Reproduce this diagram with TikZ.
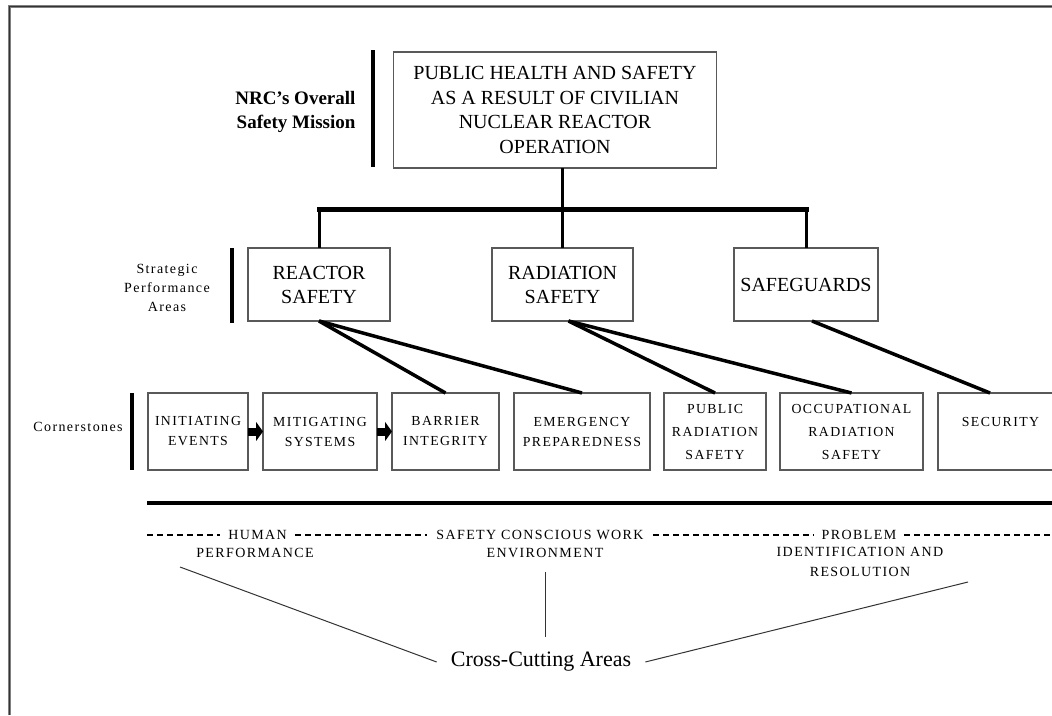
\documentclass[tikz,border=0pt]{standalone}
\usepackage{fontspec}
\setmainfont{Liberation Serif}
\newfontfamily\spacedfont[LetterSpace=10]{Liberation Serif}
\usetikzlibrary{positioning,arrows.meta}

\begin{document}
\begin{tikzpicture}[x=1pt, y=-1pt, node distance=15pt,
  box/.style={draw=black!65, line width=1.3pt, align=center, inner sep=0pt, outer sep=0pt},
  area node/.style={box, minimum width=142pt, minimum height=73pt, font=\fontsize{20}{24}\selectfont},
  corner node/.style={box, minimum height=77pt, font=\spacedfont\fontsize{13.8}{20}\selectfont},
  cross node/.style={font=\spacedfont\fontsize{14}{20}\selectfont, inner ysep=0pt},
  side label/.style={align=center, font=\spacedfont\fontsize{14}{19}\selectfont},
  side bar/.style={line width=4pt},
  trunk/.style={line width=3pt},
  spoke/.style={line width=3.5pt},
  block arrow/.style={line width=8pt, -{Triangle[length=7pt,width=19pt]}},
  dash line/.style={line width=1.3pt, dash pattern=on 6pt off 4pt},
  thin line/.style={line width=1pt, black!80}]
\useasboundingbox (0,0) rectangle (1052,715);
\clip (0,0) rectangle (1052,715);
\draw[black!50, line width=3pt] (9,715) -- (9,6.5) -- (1052,6.5);
\draw[black!80, line width=0.8pt] (9,715) -- (9,6.5) -- (1052,6.5);

% mission
\node[box, minimum width=323pt, minimum height=116pt, font=\fontsize{20}{24.5}\selectfont]
  (mission) at (555,110) {PUBLIC HEALTH AND SAFETY\\AS A RESULT OF CIVILIAN\\NUCLEAR REACTOR\\OPERATION};
\node[anchor=east, align=right, font=\bfseries\fontsize{19}{24}\selectfont] (missionlbl) at (359,112) {NRC's Overall\\Safety Mission};
\draw[side bar] (372.5,50) -- (372.5,167);

% strategic performance areas
\node[area node] (reactor) at (319,284.5) {REACTOR\\SAFETY};
\node[area node, minimum width=141pt] (radiation) at (562.5,284.5) {RADIATION\\SAFETY};
\node[area node, minimum width=144pt] (safeguards) at (806,284.5) {SAFEGUARDS};
\node[side label] (arealbl) at (167,288) {Strategic\\Performance\\Areas};
\draw[side bar] (231.5,248) -- (231.5,323);

\coordinate (hub) at (radiation.north |- 0,209);
\draw[trunk] (mission.south -| hub) -- (hub);
\draw[line width=5pt, line cap=rect] (reactor.north |- hub) -- (safeguards.north |- hub);
\draw[trunk] (reactor.north |- hub) -- (reactor.north);
\draw[trunk] (hub) -- (radiation.north);
\draw[trunk] (safeguards.north |- hub) -- (safeguards.north);

% cornerstones
\node[corner node, minimum width=100pt] (initiating) at (198,431.5) {INITIATING\\EVENTS};
\node[corner node, minimum width=114pt, right=of initiating] (mitigating) {MITIGATING\\SYSTEMS};
\node[corner node, minimum width=107pt, right=of mitigating] (barrier) {BARRIER\\INTEGRITY};
\node[corner node, minimum width=136pt, right=of barrier] (emergency) {EMERGENCY\\PREPAREDNESS};
\node[corner node, minimum width=102pt, right=14pt of emergency, font=\spacedfont\fontsize{13.8}{23}\selectfont] (public) {PUBLIC\\RADIATION\\SAFETY};
\node[corner node, minimum width=143pt, right=14pt of public, font=\spacedfont\fontsize{13.8}{23}\selectfont] (occupational) {OCCUPATIONAL\\RADIATION\\SAFETY};
\node[corner node, minimum width=125pt, right=of occupational] (security) {SECURITY\\\mbox{}};
\node[side label] (cornerlbl) at (78,427) {Cornerstones};
\draw[side bar] (131.5,393) -- (131.5,470);

\draw[block arrow] (initiating) -- (mitigating);
\draw[block arrow] (mitigating) -- (barrier);

\draw[spoke] (reactor.south) -- (barrier.north);
\draw[spoke] (reactor.south) -- (emergency.north);
\draw[spoke] ([xshift=6pt]radiation.south) -- (public.north);
\draw[spoke] ([xshift=6pt]radiation.south) -- (occupational.north);
\draw[spoke] ([xshift=6pt]safeguards.south) -- ([xshift=52pt]security.north west);

\draw[line width=4pt] (147,502.5) -- (1052,502.5);

% cross-cutting areas
\coordinate (dstart) at (147,535);
\coordinate (dend) at (1052,535);
\node[cross node, inner xsep=8pt] (human) at (257.5,535) {HUMAN};
\node[cross node, inner xsep=9pt] (scwe) at (540,535) {SAFETY CONSCIOUS WORK};
\node[cross node, inner xsep=8pt] (problem) at (859,535) {PROBLEM};
\node[cross node] (humanb) at (255,553) {PERFORMANCE};
\node[cross node] (scweb) at (545,553) {ENVIRONMENT};
\node[cross node, align=center] (problemb) at (860,562) {IDENTIFICATION AND\\RESOLUTION};
\draw[dash line] (dstart) -- (human) -- (scwe) -- (problem) -- (dend);

\node[font=\fontsize{22}{26}\selectfont, inner xsep=14pt, inner ysep=15pt] (cca) at (541,662) {Cross-Cutting Areas};
\coordinate (hpfoot) at (180,567);
\coordinate (envfoot) at (545,572);
\coordinate (pirfoot) at (968,582);
\draw[thin line] (hpfoot) -- (cca.west);
\draw[thin line] (envfoot) -- (envfoot |- cca.north);
\draw[thin line] (pirfoot) -- (cca.east);
\end{tikzpicture}
\end{document}
